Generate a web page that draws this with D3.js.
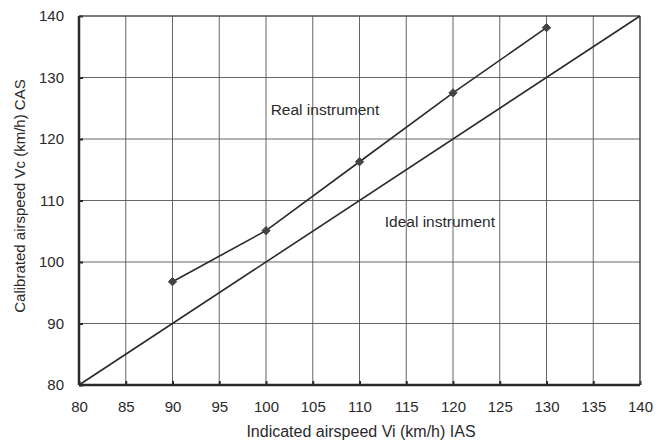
<!DOCTYPE html>
<html><head><meta charset="utf-8">
<script src="https://cdn.jsdelivr.net/npm/d3@7"></script>
<style>body{margin:0;background:#fff}svg{display:block}text{font-family:"Liberation Sans",Arial,sans-serif;fill:#2a2a2a}</style>
</head><body><svg id="c" width="666" height="442"></svg>
<script>
const xTicks = [80,85,90,95,100,105,110,115,120,125,130,135,140];
const yTicks = [80,90,100,110,120,130,140];
const realX = [90,100,110,120,130];
const realY = [96.8,105.1,116.3,127.5,138.1];
const idealX = [80,140];
const idealY = [80,140];
const labels = [{text:"Real instrument", x:100.5, y:123.9},{text:"Ideal instrument", x:112.7, y:105.7}];
const xTitle = "Indicated airspeed Vi (km/h) IAS";
const yTitle = "Calibrated airspeed Vc (km/h) CAS";

const svg = d3.select("#c");
const L=79, R=640, T=16, B=385;
const x = d3.scaleLinear().domain([80,140]).range([L,R]);
const y = d3.scaleLinear().domain([80,140]).range([B,T]);
const ink = "#2a2a2a";

// grid
svg.append("g").selectAll("line").data(xTicks).join("line")
  .attr("x1",d=>x(d)).attr("x2",d=>x(d)).attr("y1",T).attr("y2",B)
  .attr("stroke","#555").attr("stroke-width",0.9);
svg.append("g").selectAll("line").data(yTicks).join("line")
  .attr("y1",d=>y(d)).attr("y2",d=>y(d)).attr("x1",L).attr("x2",R)
  .attr("stroke","#555").attr("stroke-width",0.9);

// axes
const xa = svg.append("g").attr("transform",`translate(0,${B})`)
  .call(d3.axisBottom(x).tickValues(xTicks).tickSize(-4).tickPadding(16).tickFormat(d3.format("d")));
const ya = svg.append("g").attr("transform",`translate(${L},0)`)
  .call(d3.axisLeft(y).tickValues(yTicks).tickSize(-4).tickPadding(15).tickFormat(d3.format("d")));
[xa,ya].forEach(g=>{
  g.select(".domain").remove();
  g.selectAll(".tick line").attr("stroke",ink).attr("stroke-width",2);
  g.selectAll(".tick text").attr("font-size",15).attr("fill",ink).style("font-family","'Liberation Sans',Arial,sans-serif");
});
// borders
svg.append("line").attr("x1",L).attr("x2",R).attr("y1",B).attr("y2",B).attr("stroke",ink).attr("stroke-width",2.5);
svg.append("line").attr("x1",L).attr("x2",L).attr("y1",T).attr("y2",B).attr("stroke",ink).attr("stroke-width",2.5);
svg.append("line").attr("x1",L).attr("x2",R).attr("y1",T).attr("y2",T).attr("stroke","#444").attr("stroke-width",1.2);
svg.append("line").attr("x1",R).attr("x2",R).attr("y1",T).attr("y2",B).attr("stroke","#444").attr("stroke-width",1.2);

// lines
const line = d3.line().x(d=>x(d[0])).y(d=>y(d[1]));
svg.append("path").datum(idealX.map((v,i)=>[v,idealY[i]])).attr("d",line)
  .attr("fill","none").attr("stroke",ink).attr("stroke-width",1.6);
const real = realX.map((v,i)=>[v,realY[i]]);
svg.append("path").datum(real).attr("d",line)
  .attr("fill","none").attr("stroke",ink).attr("stroke-width",1.6);
svg.append("g").selectAll("path").data(real).join("path")
  .attr("transform",d=>`translate(${x(d[0])},${y(d[1])})`)
  .attr("d",d3.symbol(d3.symbolDiamond2,44)).attr("fill","#444")
  .attr("stroke","#444").attr("stroke-width",1).attr("stroke-linejoin","round");

// labels
svg.append("g").selectAll("text").data(labels).join("text")
  .attr("x",d=>x(d.x)).attr("y",d=>y(d.y)).attr("font-size",15.5).text(d=>d.text);

svg.append("text").attr("x",361).attr("y",437).attr("text-anchor","middle")
  .attr("font-size",16).text(xTitle);
svg.append("text").attr("transform",`translate(25,196) rotate(-90)`).attr("text-anchor","middle")
  .attr("font-size",15).text(yTitle);
</script></body></html>
